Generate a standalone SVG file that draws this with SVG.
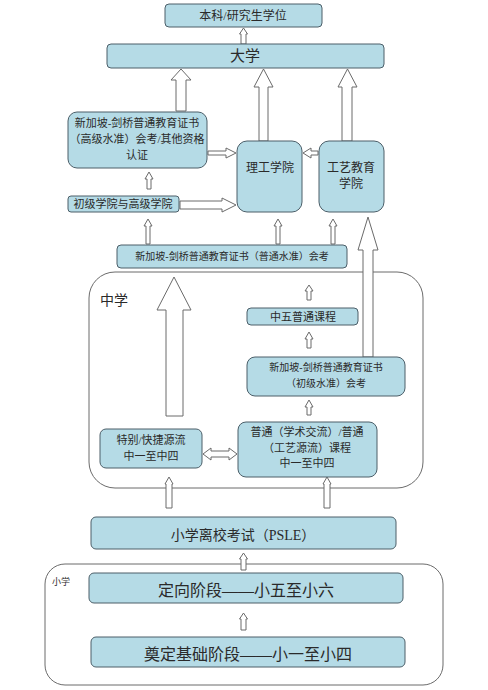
<svg xmlns="http://www.w3.org/2000/svg" width="488" height="690" viewBox="0 0 488 690">
<style>
.box{fill:#b5dbe6;stroke:#4c5f69;stroke-width:1}
.cont{fill:none;stroke:#6b6b6b;stroke-width:1}
.arr{fill:#ffffff;stroke:#6a6a6a;stroke-width:1;stroke-linejoin:miter}
text{font-family:"Liberation Serif","Noto Sans CJK SC",serif;fill:#2a2a2a;text-anchor:middle;dominant-baseline:central}
.s10{font-size:10px}.s11{font-size:11px}.s12{font-size:12px}.s14{font-size:14px}.s15{font-size:15px}.s16{font-size:16px}
</style>
<rect width="488" height="690" fill="#ffffff"/>
<g id="containers">
<rect id="middle-school" class="cont" x="89" y="272" width="334" height="216" rx="26"/>
<text x="100" y="300" class="s14" style="text-anchor:start">中学</text>
<rect id="primary-school" class="cont" x="45" y="564" width="398" height="121" rx="20"/>
<text x="52" y="582" style="text-anchor:start;font-size:9px">小学</text>
</g>
<g id="connectors">
<polygon class="arr" points="241,44 241,34 239.5,34 243.5,28 247.5,34 246,34 246,44"/>
<polygon class="arr" points="176,111 176,80 171,80 181,69 191,80 186,80 186,111"/>
<polygon class="arr" points="259,141 259,87 254,87 263.5,69 273,87 268,87 268,141"/>
<polygon class="arr" points="342,141 342,87 338,87 347.5,69 357,87 352,87 352,141"/>
<polygon class="arr" points="208,151 226,151 226,148 236,153 226,158 226,155 208,155"/>
<polygon class="arr" points="318,151 311,151 311,148 303,153 311,158 311,155 318,155"/>
<polygon class="arr" points="147,189 147,179 145,179 149,172 153,179 151,179 151,189"/>
<polygon class="arr" points="180,201 222,201 222,198 236,205 222,212 222,209 180,209"/>
<polygon class="arr" points="146,244 146,226 144,226 148,219 152,226 150,226 150,244"/>
<polygon class="arr" points="276,244 276,226 274,226 278,219 282,226 280,226 280,244"/>
<polygon class="arr" points="331,244 331,226 329,226 333,219 337,226 335,226 335,244"/>
<polygon class="arr" points="363,357 363,250 358,250 368,217 378,250 373,250 373,357"/>
<polygon class="arr" points="166,416 166,310 157,310 174,277 191,310 183,310 183,416"/>
<polygon class="arr" points="307,300 307,291 305,291 309,285 313,291 311,291 311,300"/>
<polygon class="arr" points="307,348 307,339 305,339 309,332 313,339 311,339 311,348"/>
<polygon class="arr" points="307,415 307,407 305,407 309,400 313,407 311,407 311,415"/>
<polygon class="arr" points="203,454 211,448 211,451 229,451 229,448 237,454 229,460 229,457 211,457 211,460"/>
<polygon class="arr" points="166,508 166,484 165,484 169,477 173,484 172,484 172,508"/>
<polygon class="arr" points="324,508 324,484 323,484 327,477 331,484 330,484 330,508"/>
<polygon class="arr" points="241,570 241,559 239.5,559 243.5,553 247.5,559 246,559 246,570"/>
<polygon class="arr" points="241,630 241,619 239.5,619 243.5,613 247.5,619 246,619 246,630"/>
</g>
<g id="n-degree"><rect class="box" x="165" y="4" width="157" height="23" rx="4"/><text x="243" y="16" class="s12">本科/研究生学位</text></g>
<g id="n-university"><rect class="box" x="107" y="44" width="277" height="24" rx="4"/><text x="245" y="56" class="s15">大学</text></g>
<g id="n-alevel"><rect class="box" x="68" y="112" width="139" height="56" rx="9"/>
<text x="137" y="123" class="s11">新加坡-剑桥普通教育证书</text>
<text x="137" y="139" class="s11">（高级水准）会考/其他资格</text>
<text x="137" y="155" class="s11">认证</text></g>
<g id="n-poly"><rect class="box" x="237" y="141" width="65" height="71" rx="10"/><text x="270" y="168" class="s12">理工学院</text></g>
<g id="n-ite"><rect class="box" x="319" y="141" width="65" height="71" rx="10"/><text x="351" y="168" class="s12">工艺教育</text><text x="351" y="184" class="s12">学院</text></g>
<g id="n-jc"><rect class="box" x="68" y="196" width="111" height="16" rx="3"/><text x="123" y="204" class="s11">初级学院与高级学院</text></g>
<g id="n-olevel"><rect class="box" x="117" y="245" width="230" height="23" rx="4"/><text x="232" y="256" class="s10">新加坡-剑桥普通教育证书（普通水准）会考</text></g>
<g id="n-sec5"><rect class="box" x="247" y="308" width="111" height="17" rx="4"/><text x="303" y="317" class="s11">中五普通课程</text></g>
<g id="n-nlevel"><rect class="box" x="247" y="357" width="158" height="39" rx="8"/>
<text x="326" y="367" class="s10">新加坡-剑桥普通教育证书</text>
<text x="326" y="383" class="s10">（初级水准）会考</text></g>
<g id="n-express"><rect class="box" x="100" y="429" width="102" height="39" rx="6"/>
<text x="151" y="440" class="s11">特别/快捷源流</text>
<text x="151" y="456" class="s11">中一至中四</text></g>
<g id="n-normal"><rect class="box" x="238" y="422" width="139" height="55" rx="8"/>
<text x="307" y="432" class="s11">普通（学术交流）/普通</text>
<text x="307" y="448" class="s11">（工艺源流）课程</text>
<text x="307" y="463" class="s11">中一至中四</text></g>
<g id="n-psle"><rect class="box" x="91" y="517" width="305" height="32" rx="5"/><text x="243" y="535" class="s14">小学离校考试（PSLE）</text></g>
<g id="n-orientation"><rect class="box" x="89" y="573" width="314" height="30" rx="5"/><text x="246" y="590" class="s16">定向阶段——小五至小六</text></g>
<g id="n-foundation"><rect class="box" x="91" y="637" width="314" height="30" rx="5"/><text x="248" y="654" class="s16">奠定基础阶段——小一至小四</text></g>
</svg>
